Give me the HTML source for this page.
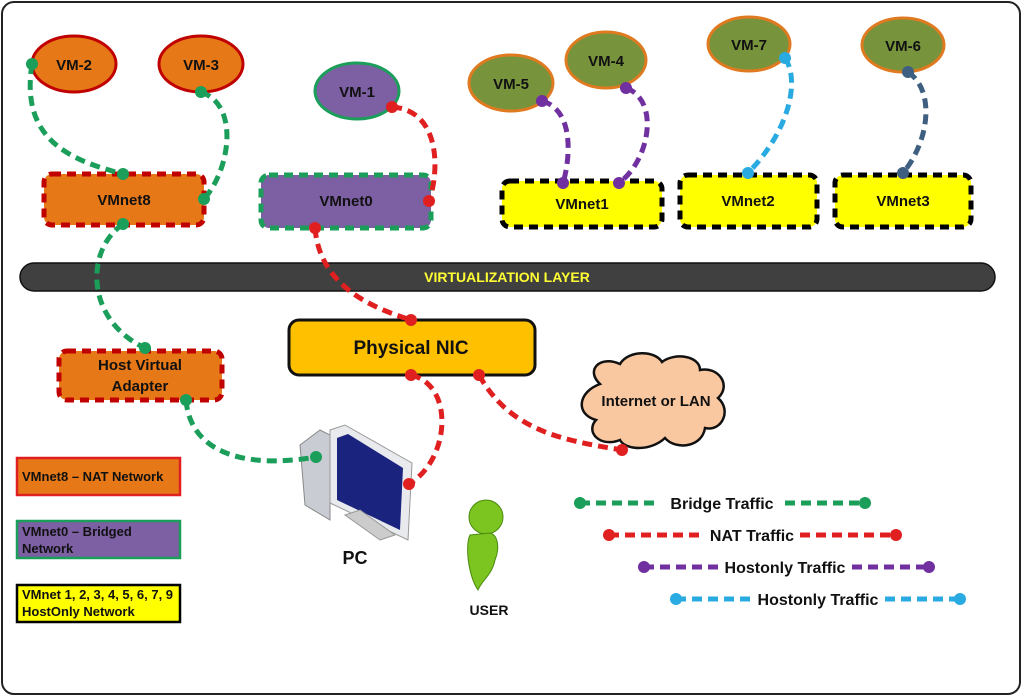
<!DOCTYPE html>
<html><head><meta charset="utf-8"><style>
html,body{margin:0;padding:0;background:#fff;}
svg{display:block;}
text{font-family:"Liberation Sans",sans-serif;font-weight:bold;}
</style></head><body>
<svg width="1024" height="697" viewBox="0 0 1024 697" xmlns="http://www.w3.org/2000/svg">
<rect x="2" y="2" width="1018" height="692" rx="12" fill="#fff" stroke="#222" stroke-width="2"/>

<!-- VM nodes -->
<g stroke-width="3">
<ellipse cx="74" cy="64" rx="42" ry="28" fill="#e67817" stroke="#c00000"/>
<ellipse cx="201" cy="64" rx="42" ry="28" fill="#e67817" stroke="#c00000"/>
<ellipse cx="357" cy="91" rx="42" ry="28" fill="#7d5fa3" stroke="#1a9e5a"/>
<ellipse cx="511" cy="83" rx="42" ry="28" fill="#77933c" stroke="#e07a20"/>
<ellipse cx="606" cy="60" rx="40" ry="28" fill="#77933c" stroke="#e07a20"/>
<ellipse cx="749" cy="44" rx="41" ry="27" fill="#77933c" stroke="#e07a20"/>
<ellipse cx="903" cy="45" rx="41" ry="27" fill="#77933c" stroke="#e07a20"/>
</g>
<g font-size="15" fill="#111" text-anchor="middle">
<text x="74" y="70">VM-2</text><text x="201" y="70">VM-3</text>
<text x="357" y="97">VM-1</text><text x="511" y="89">VM-5</text>
<text x="606" y="66">VM-4</text><text x="749" y="50">VM-7</text>
<text x="903" y="51">VM-6</text>
</g>

<!-- VMnet boxes -->
<g stroke-width="5" stroke-dasharray="9,6">
<rect x="44" y="174" width="160" height="51" rx="8" fill="#e67817" stroke="#c00000"/>
<rect x="261" y="175" width="170" height="53" rx="8" fill="#7d5fa3" stroke="#1a9e5a"/>
<rect x="502" y="181" width="160" height="46" rx="8" fill="#ffff00" stroke="#000"/>
<rect x="680" y="175" width="137" height="52" rx="8" fill="#ffff00" stroke="#000"/>
<rect x="835" y="175" width="136" height="52" rx="8" fill="#ffff00" stroke="#000"/>
<rect x="59" y="351" width="163" height="49" rx="8" fill="#e67817" stroke="#c00000"/>
</g>
<g font-size="15" fill="#111" text-anchor="middle">
<text x="124" y="205">VMnet8</text><text x="346" y="206">VMnet0</text>
<text x="582" y="209">VMnet1</text><text x="748" y="206">VMnet2</text>
<text x="903" y="206">VMnet3</text>
<text x="140" y="370">Host Virtual</text><text x="140" y="391">Adapter</text>
</g>

<!-- Virtualization layer -->
<rect x="20" y="263" width="975" height="28" rx="14" fill="#404040" stroke="#111" stroke-width="1.5"/>
<text x="507" y="282" font-size="14" fill="#ffff33" text-anchor="middle">VIRTUALIZATION LAYER</text>

<!-- Physical NIC -->
<rect x="289" y="320" width="246" height="55" rx="10" fill="#ffc000" stroke="#111" stroke-width="3"/>
<text x="411" y="354" font-size="19" fill="#111" text-anchor="middle">Physical NIC</text>

<!-- Cloud -->
<path d="M600,384 C585,370 600,355 620,364 C628,350 655,350 662,362 C675,352 700,356 700,370 C718,366 732,385 718,398 C732,410 722,432 705,428 C702,448 675,450 665,438 C650,452 625,450 620,440 C600,448 585,432 596,420 C575,414 578,392 600,384 Z" fill="#fac8a0" stroke="#111" stroke-width="2.5"/>
<text x="656" y="406" font-size="15" fill="#111" text-anchor="middle">Internet or LAN</text>

<!-- Legend boxes -->
<rect x="17" y="458" width="163" height="37" fill="#e67817" stroke="#e02020" stroke-width="2.5"/>
<text x="22" y="481" font-size="13" fill="#111">VMnet8 – NAT Network</text>
<rect x="17" y="521" width="163" height="37" fill="#7d5fa3" stroke="#1a9e5a" stroke-width="2.5"/>
<text x="22" y="536" font-size="13" fill="#111">VMnet0 – Bridged</text>
<text x="22" y="553" font-size="13" fill="#111">Network</text>
<rect x="17" y="585" width="163" height="37" fill="#ffff00" stroke="#000" stroke-width="2.5"/>
<text x="22" y="599" font-size="13" fill="#111">VMnet 1, 2, 3, 4, 5, 6, 7, 9</text>
<text x="22" y="616" font-size="13" fill="#111">HostOnly Network</text>

<!-- PC icon -->
<g>
<polygon points="300,445 320,430 330,435 330,520 305,505" fill="#c9cdd3" stroke="#888"/>
<polygon points="330,430 345,425 412,463 408,540 330,503" fill="#e8eaee" stroke="#999"/>
<polygon points="337,438 348,434 403,468 400,530 337,500" fill="#1a237e"/>
<polygon points="345,515 360,510 395,535 380,540" fill="#ccc" stroke="#999"/>
</g>
<text x="355" y="564" font-size="18" fill="#111" text-anchor="middle">PC</text>

<!-- User icon -->
<g fill="#7cc520" stroke="#4a8a10">
<circle cx="486" cy="517" r="17"/>
<path d="M470,535 C465,545 468,575 478,590 C482,580 492,575 495,560 C500,548 498,535 490,533 Z"/>
</g>
<text x="489" y="615" font-size="14" fill="#111" text-anchor="middle">USER</text>

<!-- Connectors -->
<g fill="none" stroke-width="5" stroke-dasharray="10,6">
<path d="M32,64 C20,140 70,160 123,174" stroke="#1a9e5a"/>
<path d="M201,92 C240,105 230,170 204,199" stroke="#1a9e5a"/>
<path d="M123,224 C85,250 85,320 145,348" stroke="#1a9e5a"/>
<path d="M186,400 C190,450 240,470 316,457" stroke="#1a9e5a"/>
<path d="M392,107 C440,110 440,170 429,201" stroke="#e02020"/>
<path d="M315,228 C320,290 380,310 411,320" stroke="#e02020"/>
<path d="M411,375 C455,385 450,460 409,484" stroke="#e02020"/>
<path d="M479,375 C510,430 560,440 622,450" stroke="#e02020"/>
<path d="M542,101 C575,110 570,160 563,183" stroke="#7030a0"/>
<path d="M626,88 C660,100 650,160 619,183" stroke="#7030a0"/>
<path d="M785,58 C800,80 790,130 748,173" stroke="#29abe2"/>
<path d="M908,72 C935,90 930,140 903,173" stroke="#3f5f80"/>
<line x1="580" y1="503" x2="660" y2="503" stroke="#1a9e5a"/>
<line x1="785" y1="503" x2="865" y2="503" stroke="#1a9e5a"/>
<line x1="609" y1="535" x2="705" y2="535" stroke="#e02020"/>
<line x1="800" y1="535" x2="896" y2="535" stroke="#e02020"/>
<line x1="644" y1="567" x2="718" y2="567" stroke="#7030a0"/>
<line x1="852" y1="567" x2="929" y2="567" stroke="#7030a0"/>
<line x1="676" y1="599" x2="750" y2="599" stroke="#29abe2"/>
<line x1="885" y1="599" x2="960" y2="599" stroke="#29abe2"/>
</g>
<g>
<g fill="#1a9e5a"><circle cx="32" cy="64" r="6"/><circle cx="123" cy="174" r="6"/><circle cx="201" cy="92" r="6"/><circle cx="204" cy="199" r="6"/><circle cx="123" cy="224" r="6"/><circle cx="145" cy="348" r="6"/><circle cx="186" cy="400" r="6"/><circle cx="316" cy="457" r="6"/><circle cx="580" cy="503" r="6"/><circle cx="865" cy="503" r="6"/></g>
<g fill="#e02020"><circle cx="392" cy="107" r="6"/><circle cx="429" cy="201" r="6"/><circle cx="315" cy="228" r="6"/><circle cx="411" cy="320" r="6"/><circle cx="411" cy="375" r="6"/><circle cx="409" cy="484" r="6"/><circle cx="479" cy="375" r="6"/><circle cx="622" cy="450" r="6"/><circle cx="609" cy="535" r="6"/><circle cx="896" cy="535" r="6"/></g>
<g fill="#7030a0"><circle cx="542" cy="101" r="6"/><circle cx="563" cy="183" r="6"/><circle cx="626" cy="88" r="6"/><circle cx="619" cy="183" r="6"/><circle cx="644" cy="567" r="6"/><circle cx="929" cy="567" r="6"/></g>
<g fill="#29abe2"><circle cx="785" cy="58" r="6"/><circle cx="748" cy="173" r="6"/><circle cx="676" cy="599" r="6"/><circle cx="960" cy="599" r="6"/></g>
<g fill="#3f5f80"><circle cx="908" cy="72" r="6"/><circle cx="903" cy="173" r="6"/></g>
</g>
<g font-size="16" fill="#111" text-anchor="middle">
<text x="722" y="509">Bridge Traffic</text>
<text x="752" y="541">NAT Traffic</text>
<text x="785" y="573">Hostonly Traffic</text>
<text x="818" y="605">Hostonly Traffic</text>
</g>
</svg>
</body></html>
